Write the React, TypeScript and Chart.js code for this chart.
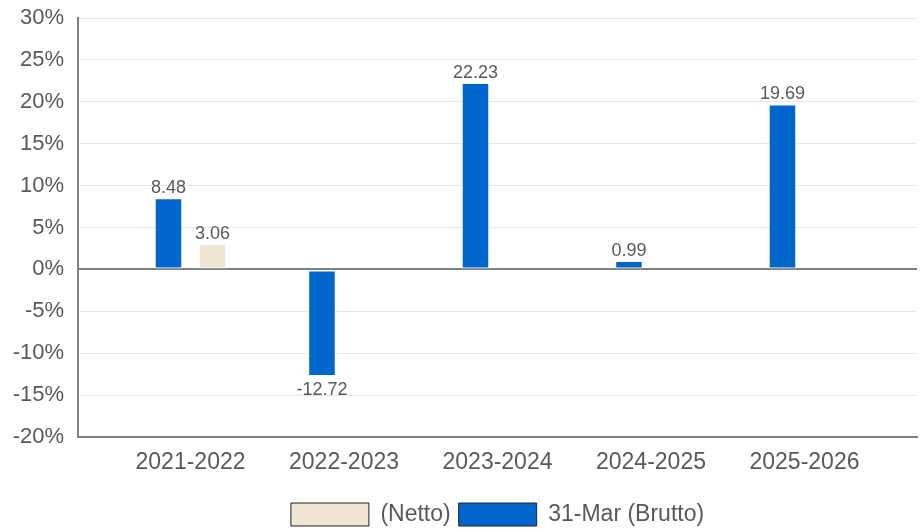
import { useEffect, useRef } from "react";
import { Chart, registerables } from "chart.js";

Chart.register(...registerables);

const categories = ["2021-2022", "2022-2023", "2023-2024", "2024-2025", "2025-2026"];
const bruttoValues = [8.48, -12.72, 22.23, 0.99, 19.69];
const nettoValues: (number | null)[] = [3.06, null, null, null, null];
const yMin = -20;
const yMax = 30;
const yStep = 5;
const bruttoLabel = "31-Mar (Brutto)";
const nettoLabel = "(Netto)";

const FONT = "'Liberation Sans', Arial, Helvetica, sans-serif";
const TEXT = "#595959";
const BLUE = "#0066CC";
const BEIGE = "#F0E6D3";

export default function App() {
  const ref = useRef<HTMLCanvasElement | null>(null);

  useEffect(() => {
    const canvas = ref.current;
    if (!canvas) return;

    const toPoints = (arr: (number | null)[]) =>
      arr
        .map((v, i) => (v === null ? null : { x: i, y: v }))
        .filter((p) => p !== null);

    const valueLabels = {
      id: "valueLabels",
      afterDatasetsDraw(chart: any) {
        const ctx = chart.ctx;
        ctx.save();
        ctx.font = `18px ${FONT}`;
        ctx.fillStyle = TEXT;
        ctx.textAlign = "center";
        ctx.textBaseline = "alphabetic";
        chart.data.datasets.forEach((ds: any, di: number) => {
          const meta = chart.getDatasetMeta(di);
          meta.data.forEach((el: any, i: number) => {
            const v = ds.data[i].y;
            const y = v >= 0 ? el.y - 5 : el.y + 19;
            ctx.fillText(v.toFixed(2), el.x, y);
          });
        });
        ctx.restore();
      },
    };

    const legendShift = {
      id: "legendShift",
      afterLayout(chart: any) {
        const lg = chart.legend;
        const ca = chart.chartArea;
        if (!lg) return;
        lg.left = ca.left;
        lg.right = ca.right;
        lg.top += 7;
        lg.bottom += 7;
      },
    };

    const chart = new Chart(canvas, {
      type: "bar",
      data: {
        datasets: [
          {
            label: bruttoLabel,
            data: toPoints(bruttoValues) as any,
            backgroundColor: BLUE,
            borderColor: "rgba(255,255,255,0.8)",
            borderWidth: 1,
            borderSkipped: false,
          },
          {
            label: nettoLabel,
            data: toPoints(nettoValues) as any,
            backgroundColor: BEIGE,
            borderColor: "rgba(255,255,255,0.8)",
            borderWidth: 1,
            borderSkipped: false,
          },
        ],
      },
      options: {
        responsive: false,
        animation: false,
        devicePixelRatio: 1,
        datasets: {
          bar: {
            categoryPercentage: 0.574,
            barPercentage: 0.625,
          },
        },
        layout: { padding: { top: 18, right: 5, left: 0, bottom: 0 } },
        scales: {
          x: {
            type: "linear",
            offset: false,
            min: -0.733,
            max: 4.733,
            afterBuildTicks: (scale: any) => {
              scale.ticks = categories.map((_, i) => ({ value: i }));
            },
            afterFit: (scale: any) => {
              scale.height = 51;
            },
            grid: { display: false, drawTicks: false, offset: false },
            border: { display: true, color: "#808080", width: 2 },
            ticks: {
              autoSkip: false,
              maxRotation: 0,
              padding: 12,
              color: TEXT,
              font: { family: FONT, size: 23 },
              callback: (v: any) => categories[v as number] ?? "",
            },
          },
          y: {
            min: yMin,
            max: yMax,
            afterFit: (scale: any) => {
              scale.width = 78;
              scale.paddingTop = 0;
              scale.paddingBottom = 0;
            },
            grid: {
              drawTicks: false,
              color: (c: any) => (c.tick && c.tick.value === 0 ? "#808080" : "#E6E6E6"),
              lineWidth: (c: any) => (c.tick && c.tick.value === 0 ? 2 : 1),
            },
            border: { display: true, color: "#808080", width: 2 },
            ticks: {
              stepSize: yStep,
              padding: 14,
              color: TEXT,
              font: { family: FONT, size: 22 },
              callback: (v: any) => `${v}%`,
            },
          },
        },
        plugins: {
          tooltip: { enabled: false },
          legend: {
            position: "bottom",
            labels: {
              boxWidth: 78,
              boxHeight: 23,
              padding: 8,
              color: TEXT,
              font: { family: FONT, size: 23 },
              generateLabels: (ch: any) =>
                ch.data.datasets
                  .map((ds: any, i: number) => ({
                    text: ds.label,
                    fillStyle: ds.backgroundColor,
                    strokeStyle: "#222222",
                    lineWidth: 1,
                    hidden: false,
                    datasetIndex: i,
                    fontColor: TEXT,
                  }))
                  .reverse(),
            },
          },
        },
      },
      plugins: [valueLabels, legendShift],
    });

    return () => chart.destroy();
  }, []);

  return (
    <div style={{ position: "absolute", left: 0, top: 0, width: 922, height: 529, background: "#fff" }}>
      <canvas ref={ref} width={922} height={529} style={{ display: "block" }} />
    </div>
  );
}
